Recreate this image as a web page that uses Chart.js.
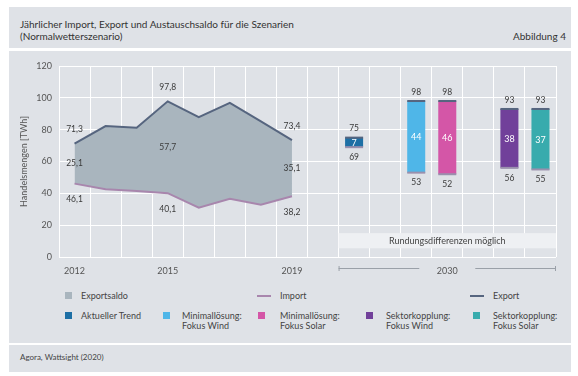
<html>
<head>
<meta charset="utf-8">
<script src="https://cdn.jsdelivr.net/npm/chart.js@4.4.1/dist/chart.umd.min.js"></script>
<style>
  body { margin: 0; background: #fff; font-family: Lato, sans-serif; color: #3a3a3a; }
  #wrap { position: relative; width: 578px; height: 376px; }
  .panel { position: absolute; background: #dfe2e7; }
  .txt { position: absolute; white-space: nowrap; }
  .sq { position: absolute; width: 7px; height: 7px; }
  .ln { position: absolute; width: 14px; height: 2px; }
  .lt { position: absolute; font-size: 9px; line-height: 10.5px; color: #444; white-space: nowrap; }
</style>
</head>

<body>
<div id="wrap">
  <div class="panel" style="left:9px;top:7px;width:562px;height:41px"></div>
  <div class="txt" style="left:20px;top:17.5px;font-size:10px;color:#333">Jährlicher Import, Export und Austauschsaldo für die Szenarien</div>
  <div class="txt" style="left:20px;top:29.5px;font-size:10px;color:#333">(Normalwetterszenario)</div>
  <div class="txt" style="right:12px;top:29.5px;font-size:10px;color:#333">Abbildung 4</div>

  <div class="panel" style="left:9px;top:51px;width:562px;height:292px"></div>
  <div style="position:absolute;left:9px;top:51px;width:562px;height:232px">
    <canvas id="chart"></canvas>
  </div>
  <div id="legend"></div>

  <div class="panel" style="left:9px;top:345px;width:562px;height:27px"></div>
  <div class="txt" style="left:20px;top:352px;font-size:8px;color:#444">Agora, Wattsight (2020)</div>
</div>

<script>
// historische Jahre
const years = ['2012', '2013', '2014', '2015', '2016', '2017', '2018', '2019']
const exportTWh = [71.3, 82.3, 81.2, 97.8, 87.9, 96.9, 85.2, 73.4]
const importTWh = [46.1, 42.5, 41.5, 40.1, 31.0, 36.6, 32.9, 38.2]
const labeledYears = ['2012', '2015', '2019']
const saldoTWh = [25.1, 57.7, 35.1]   // beschriftete Saldi in labeledYears

// Szenarien 2030
const scenarios = ['Aktueller Trend', 'Minimallösung: Fokus Wind', 'Minimallösung: Fokus Solar', 'Sektorkopplung: Fokus Wind', 'Sektorkopplung: Fokus Solar']
const export2030 = [75, 98, 98, 93, 93]
const import2030 = [69, 53, 52, 56, 55]
const saldo2030 = [7, 44, 46, 38, 37]
const scenarioColors = ['#1d6fa5', '#4fb6e8', '#d456a7', '#71409a', '#38abad']

// x-Achse: Jahre, Lücke, Szenarien mit Lücken
const slots = [...years, '', scenarios[0], '', scenarios[1], scenarios[2], '', scenarios[3], scenarios[4]]

const exportColor = '#56657f'
const importColor = '#a886ad'
const saldoColor = '#a9b5be'
const textColor = '#3a3a3a'

function fmt(v) {
  return v.toFixed(1).replace('.', ',')
}

let yearData = arr => slots.map((s, i) => i < years.length ? arr[i] : null)
let barData = slots.map(s => {
  let k = scenarios.indexOf(s)
  return k < 0 ? null : [import2030[k], export2030[k]]
})
let barColors = slots.map(s => {
  let k = scenarios.indexOf(s)
  return k < 0 ? 'transparent' : scenarioColors[k]
})

// Legende
function buildLegend() {
  let el = document.getElementById('legend')
  let html = ''
  html += `<div class="sq" style="left:65px;top:292px;background:${saldoColor}"></div>`
  html += `<div class="lt" style="left:81px;top:290.5px">Exportsaldo</div>`
  html += `<div class="ln" style="left:257px;top:295px;background:${importColor}"></div>`
  html += `<div class="lt" style="left:280px;top:290.5px">Import</div>`
  html += `<div class="ln" style="left:470px;top:295px;background:${exportColor}"></div>`
  html += `<div class="lt" style="left:493px;top:290.5px">Export</div>`
  let sqX = [65, 163, 258, 366, 473]
  let txX = [81, 182, 280, 386, 493]
  scenarios.forEach((name, k) => {
    html += `<div class="sq" style="left:${sqX[k]}px;top:312px;background:${scenarioColors[k]}"></div>`
    html += `<div class="lt" style="left:${txX[k]}px;top:310.5px">${name.replace(': ', ':<br>')}</div>`
  })
  el.innerHTML = html
}
buildLegend()

const marks = {
  id: 'marks',
  beforeDatasetsDraw(chart) {
    let { ctx, scales: { x, y }, chartArea } = chart
    let half = (x.getPixelForValue(1) - x.getPixelForValue(0)) / 2
    let left = x.getPixelForValue(slots.indexOf(scenarios[0])) - half
    let top = y.getPixelForValue(15), bottom = y.getPixelForValue(5.5)
    ctx.save()
    ctx.fillStyle = '#eef0f3'
    ctx.fillRect(left, top, chartArea.right - left, bottom - top)
    ctx.fillStyle = '#444'
    ctx.font = '9px Lato'
    ctx.textAlign = 'center'
    ctx.textBaseline = 'middle'
    ctx.fillText('Rundungsdifferenzen möglich', (left + chartArea.right) / 2, (top + bottom) / 2 + 0.5)
    ctx.restore()
  },
  afterDatasetsDraw(chart) {
    let { ctx, scales: { x, y }, chartArea } = chart
    ctx.save()
    ctx.textAlign = 'center'
    ctx.textBaseline = 'middle'
    ctx.font = '8.5px Lato'

    // Linienbeschriftungen
    let em = chart.getDatasetMeta(0), im = chart.getDatasetMeta(1)
    labeledYears.forEach((yr, j) => {
      let i = years.indexOf(yr)
      let pe = em.data[i], pi = im.data[i]
      ctx.fillStyle = textColor
      ctx.fillText(fmt(exportTWh[i]), pe.x, pe.y - 14)
      ctx.fillText(fmt(saldoTWh[j]), pe.x, (pe.y + pi.y) / 2)
      ctx.fillText(fmt(importTWh[i]), pi.x, pi.y + 16)
    })

    // Balkenkanten und Beschriftungen
    let bm = chart.getDatasetMeta(2)
    scenarios.forEach((name, k) => {
      let el = bm.data[slots.indexOf(name)]
      let l = el.x - el.width / 2, r = el.x + el.width / 2
      ctx.fillStyle = exportColor
      ctx.fillRect(l, el.y - 1, r - l, 2)
      ctx.fillStyle = '#9a90ad'
      ctx.fillRect(l, el.base - 1, r - l, 2)
      ctx.fillStyle = textColor
      ctx.fillText(export2030[k], el.x, el.y - 9)
      ctx.fillText(import2030[k], el.x, el.base + 10)
      ctx.fillStyle = '#fff'
      ctx.font = '9px Lato'
      ctx.fillText(saldo2030[k], el.x, (el.y + el.base) / 2 + 0.5)
      ctx.font = '8.5px Lato'
    })

    // Klammer 2030
    let half = (x.getPixelForValue(1) - x.getPixelForValue(0)) / 2
    let left = x.getPixelForValue(slots.indexOf(scenarios[0])) - half
    let right = chartArea.right
    let mid = (left + right) / 2
    let ly = chartArea.bottom + 11.5
    ctx.strokeStyle = '#9aa0a8'
    ctx.lineWidth = 1
    ctx.beginPath()
    ctx.moveTo(left, ly); ctx.lineTo(mid - 28, ly)
    ctx.moveTo(mid + 28, ly); ctx.lineTo(right, ly)
    ctx.moveTo(left + 0.5, ly - 2.5); ctx.lineTo(left + 0.5, ly + 2.5)
    ctx.moveTo(right - 0.5, ly - 2.5); ctx.lineTo(right - 0.5, ly + 2.5)
    ctx.stroke()
    ctx.fillStyle = '#555'
    ctx.font = '9px Lato'
    ctx.fillText('2030', mid, chartArea.bottom + 14)
    ctx.restore()
  }
}

new Chart(document.getElementById('chart'), {
  type: 'bar',
  data: {
    labels: slots,
    datasets: [
      {
        type: 'line', label: 'Export', data: yearData(exportTWh),
        borderColor: exportColor, borderWidth: 2, pointRadius: 0,
        fill: '+1', backgroundColor: saldoColor, order: 2,
      },
      {
        type: 'line', label: 'Import', data: yearData(importTWh),
        borderColor: importColor, borderWidth: 2, pointRadius: 0,
        fill: false, order: 1,
      },
      {
        type: 'bar', label: '2030', data: barData, backgroundColor: barColors,
        barPercentage: 0.58, categoryPercentage: 1, order: 3,
      },
    ],
  },
  options: {
    responsive: true,
    maintainAspectRatio: false,
    animation: false,
    layout: { padding: { top: 15, right: 15, left: 0, bottom: 0 } },
    plugins: { legend: { display: false }, tooltip: { enabled: false } },
    scales: {
      x: {
        grid: { color: '#fff', offset: true, drawTicks: false },
        border: { display: false },
        ticks: {
          autoSkip: false, maxRotation: 0, padding: 9, color: '#555',
          font: { family: 'Lato', size: 9 },
          callback(v) {
            let l = this.getLabelForValue(v)
            return labeledYears.includes(l) ? l : ''
          },
        },
        afterFit(s) { s.height = 26 },
      },
      y: {
        min: 0, max: 120,
        grid: { color: '#fff', drawTicks: false },
        border: { display: false },
        ticks: { stepSize: 20, padding: 7, color: '#555', font: { family: 'Lato', size: 9 } },
        title: {
          display: true, text: 'Handelsmengen [TWh]', color: '#555',
          font: { family: 'Lato', size: 9 }, padding: { top: 10, bottom: 0 },
        },
        afterFit(s) { s.width = 50 },
      },
    },
  },
  plugins: [marks],
})
</script>
</body>
</html>
